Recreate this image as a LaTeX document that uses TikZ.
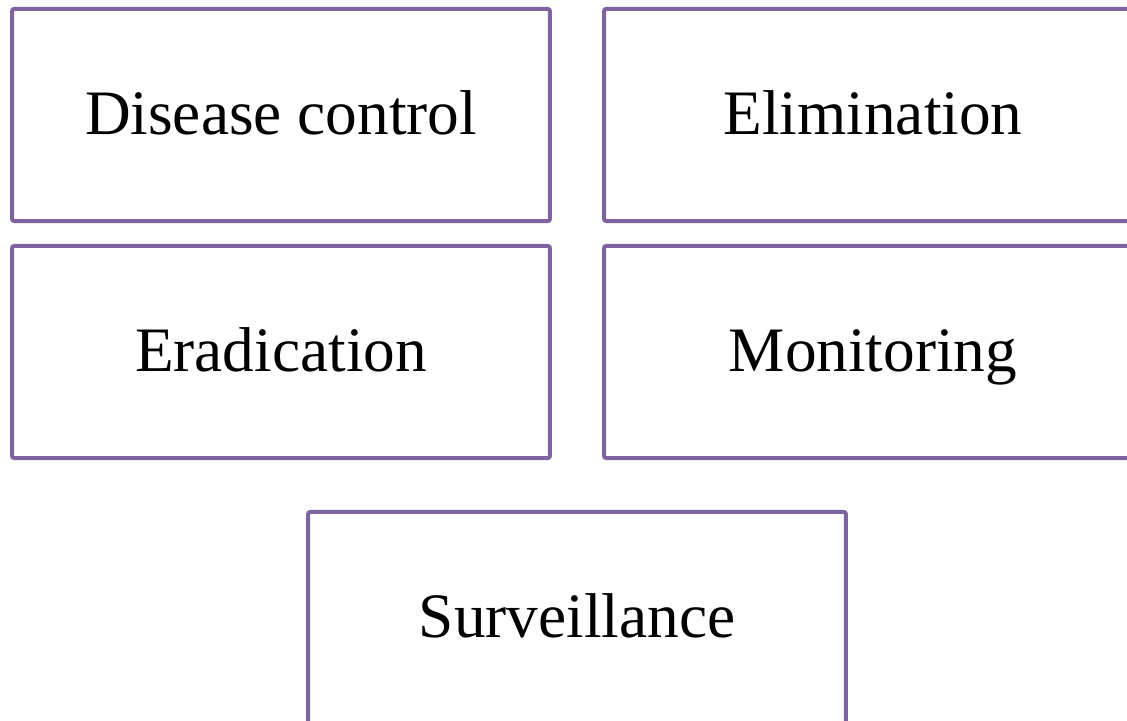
\documentclass[tikz,border=0pt]{standalone}
\usepackage{fontspec}
\setmainfont{Liberation Serif}
\definecolor{boxpurple}{HTML}{8064A2}

\begin{document}
\begin{tikzpicture}[x=0.01cm,y=-0.01cm,
    term/.style={draw=boxpurple,line width=0.04cm,rounded corners=0.6pt,
        minimum width=5.375cm,minimum height=2.12cm,inner sep=0pt,
        text height=0.5cm,text depth=0.12cm,
        font=\fontsize{18}{22}\selectfont}]
    \useasboundingbox (0,0) rectangle (1127,720);
    \clip (0,0) rectangle (1127,720);
    \node[term] (control) at (281,115) {Disease control};
    \node[term] (elim) at (873,115) {Elimination};
    \node[term] (erad) at (281,352) {Eradication};
    \node[term] (monit) at (873,352) {Monitoring};
    \node[term] (surv) at (577,618) {Surveillance};
\end{tikzpicture}
\end{document}
